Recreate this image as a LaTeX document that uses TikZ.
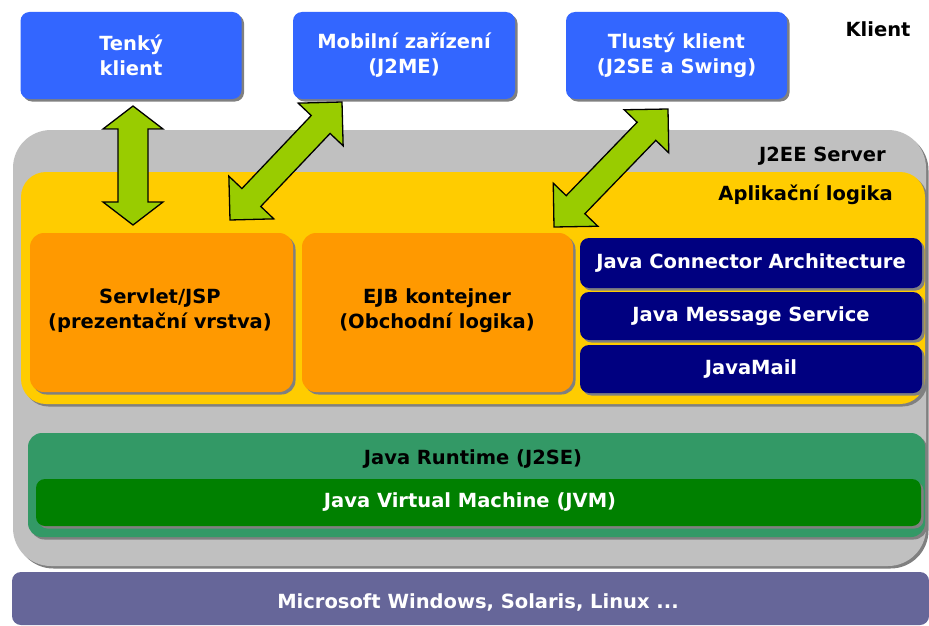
\documentclass[tikz,border=0pt]{standalone}
\usepackage{fontspec}
\setmainfont{DejaVu Sans}
\usetikzlibrary{calc,shadows}
\definecolor{cblue}{HTML}{3366FF}
\definecolor{cgray}{HTML}{C0C0C0}
\definecolor{cyellow}{HTML}{FFCC00}
\definecolor{corange}{HTML}{FF9900}
\definecolor{cnavy}{HTML}{000080}
\definecolor{cgreen}{HTML}{339966}
\definecolor{cjvm}{HTML}{008000}
\definecolor{cpurple}{HTML}{666699}
\definecolor{carrow}{HTML}{99CC00}
\definecolor{cshadow}{HTML}{808080}
\tikzset{
  txt/.style={font=\bfseries\fontsize{19.5}{25}\selectfont, align=center, inner sep=0pt},
  shad/.style={general shadow={shadow xshift=2.5pt, shadow yshift=-2.5pt, fill=cshadow}},
  clientbox/.style={rectangle, rounded corners=9pt, fill=cblue, shad, txt, text=white},
  layerbox/.style={rectangle, rounded corners=#1, shad},
  orangebox/.style={rectangle, rounded corners=14pt, fill=corange, shad, txt, text=black},
  navybox/.style={rectangle, rounded corners=9pt, fill=cnavy, shad, txt, text=white},
  lbl/.style={txt, text=black},
  blockarrow/.style={fill=carrow, draw=black, line width=1.3pt, line join=miter},
}
\newcommand\blockarr[5]{%
  \draw[blockarrow] (#2)
   -- ($(#2)!#3!(#1)!#4!90:(#1)$) -- ($(#2)!#3!(#1)!#5!90:(#1)$)
   -- ($(#1)!#3!(#2)!#5!-90:(#2)$) -- ($(#1)!#3!(#2)!#4!-90:(#2)$)
   -- (#1)
   -- ($(#1)!#3!(#2)!#4!90:(#2)$) -- ($(#1)!#3!(#2)!#5!90:(#2)$)
   -- ($(#2)!#3!(#1)!#5!-90:(#1)$) -- ($(#2)!#3!(#1)!#4!-90:(#1)$)
   -- cycle;}
\begin{document}
\begin{tikzpicture}[x=1pt, y=-1pt]
\useasboundingbox (0,0) rectangle (929,626);
\fill[white] (0,0) rectangle (929,626);
% clients
\node[clientbox, minimum width=221pt, minimum height=87pt] (tenky) at (131,55.5) {Tenký\\klient};
\node[clientbox, minimum width=222pt, minimum height=87pt] (mobil) at (404,55.5) {Mobilní zařízení\\(J2ME)};
\node[clientbox, minimum width=221pt, minimum height=87pt] (tlusty) at (676.5,55.5) {Tlustý klient\\(J2SE a Swing)};
\node[lbl] (klient) at (878,29) {Klient};
% server
\node[layerbox=38pt, fill=cgray, minimum width=913pt, minimum height=436pt] (server) at (469.5,348) {};
\node[lbl, anchor=east] (serverlbl) at (886,156) {J2EE Server};
\node[layerbox=25pt, fill=cyellow, minimum width=904pt, minimum height=232pt] (app) at (473,288) {};
\node[lbl, anchor=east] (applbl) at (893,195) {Aplikační logika};
\node[orangebox, minimum width=263pt, minimum height=159pt] (servlet) at (161.5,312.5) {};
\node[lbl] (servlettxt) at (160,310.5) {Servlet/JSP\\(prezentační vrstva)};
\node[orangebox, minimum width=271pt, minimum height=159pt] (ejb) at (437.5,312.5) {};
\node[lbl] (ejbtxt) at (437,310.5) {EJB kontejner\\(Obchodní logika)};
\node[navybox, minimum width=342pt, minimum height=50pt] (jca) at (751,263) {Java Connector Architecture};
\node[navybox, minimum width=342pt, minimum height=48pt] (jms) at (751,316) {Java Message Service};
\node[navybox, minimum width=342pt, minimum height=48pt] (mail) at (751,369) {JavaMail};
% runtime
\node[layerbox=14pt, fill=cgreen, minimum width=897pt, minimum height=104pt] (jre) at (476.5,485) {};
\node[lbl] (jrelbl) at (473,459) {Java Runtime (J2SE)};
\node[layerbox=9pt, fill=cjvm, minimum width=885pt, minimum height=47pt] (jvm) at (478.5,502.5) {};
\node[txt, text=white] (jvmtxt) at (470,502.5) {Java Virtual Machine (JVM)};
% OS
\node[rectangle, rounded corners=9pt, fill=cpurple, minimum width=917pt, minimum height=53pt] (os) at (470.5,598.5) {};
\node[txt, text=white] (ostxt) at (478,602) {Microsoft Windows, Solaris, Linux ...};
% arrows
\coordinate (a1t) at (133,106);
\coordinate (a1b) at (133,225);
\coordinate (a2t) at (342,102);
\coordinate (a2b) at (230,220);
\coordinate (a3t) at (668,109);
\coordinate (a3b) at (554,227);
\blockarr{a1b}{a1t}{23pt}{30pt}{15pt}
\blockarr{a2b}{a2t}{31pt}{31pt}{13pt}
\blockarr{a3b}{a3t}{31pt}{31pt}{13pt}
\end{tikzpicture}
\end{document}
